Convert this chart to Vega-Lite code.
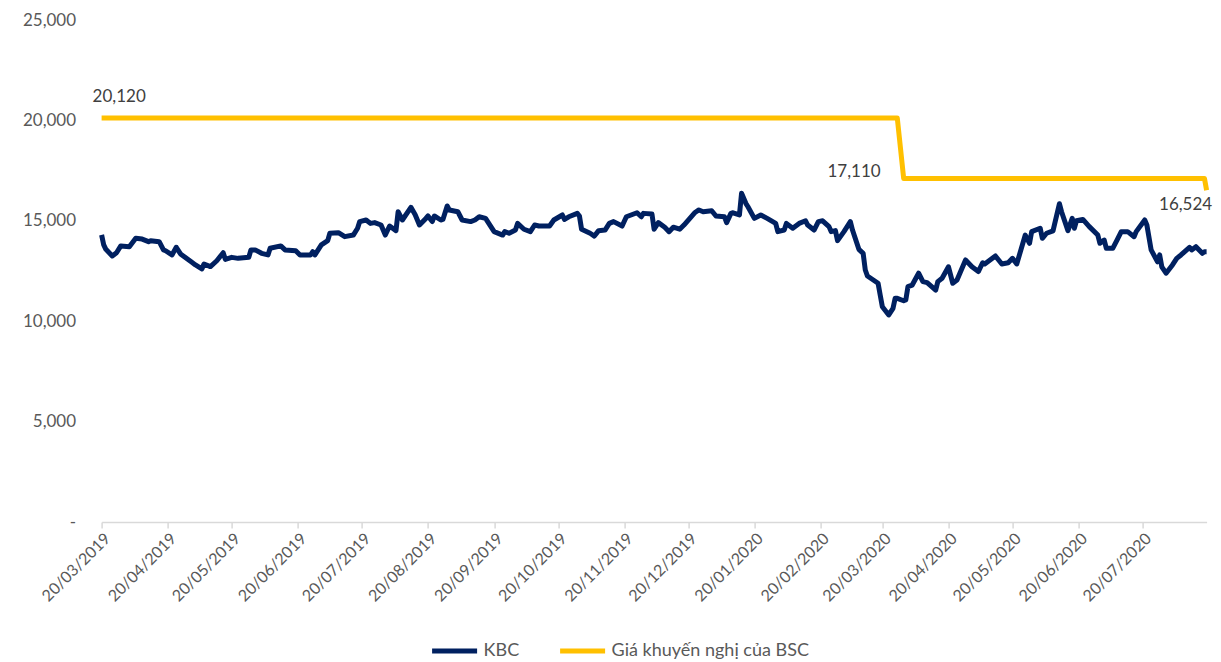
{
  "$schema": "https://vega.github.io/schema/vega-lite/v6.json",
  "autosize": {"type": "none"},
  "width": 1105,
  "height": 502,
  "padding": {"left": 101.6, "top": 20, "right": 14.4, "bottom": 140},
  "config": {
    "view": {"stroke": null},
    "font": "Lato"
  },
  "datasets": {
    "prices": [
      {"date": "2019-03-20", "series": "KBC", "value": 14300},
      {"date": "2019-03-21", "series": "KBC", "value": 13800},
      {"date": "2019-03-22", "series": "KBC", "value": 13580},
      {"date": "2019-03-25", "series": "KBC", "value": 13250},
      {"date": "2019-03-27", "series": "KBC", "value": 13410},
      {"date": "2019-03-29", "series": "KBC", "value": 13750},
      {"date": "2019-04-02", "series": "KBC", "value": 13710},
      {"date": "2019-04-05", "series": "KBC", "value": 14130},
      {"date": "2019-04-08", "series": "KBC", "value": 14090},
      {"date": "2019-04-11", "series": "KBC", "value": 13960},
      {"date": "2019-04-12", "series": "KBC", "value": 14010},
      {"date": "2019-04-16", "series": "KBC", "value": 13960},
      {"date": "2019-04-18", "series": "KBC", "value": 13550},
      {"date": "2019-04-19", "series": "KBC", "value": 13510},
      {"date": "2019-04-22", "series": "KBC", "value": 13300},
      {"date": "2019-04-24", "series": "KBC", "value": 13680},
      {"date": "2019-04-26", "series": "KBC", "value": 13350},
      {"date": "2019-05-01", "series": "KBC", "value": 12960},
      {"date": "2019-05-03", "series": "KBC", "value": 12800},
      {"date": "2019-05-06", "series": "KBC", "value": 12600},
      {"date": "2019-05-07", "series": "KBC", "value": 12850},
      {"date": "2019-05-10", "series": "KBC", "value": 12720},
      {"date": "2019-05-13", "series": "KBC", "value": 13010},
      {"date": "2019-05-16", "series": "KBC", "value": 13410},
      {"date": "2019-05-17", "series": "KBC", "value": 13080},
      {"date": "2019-05-20", "series": "KBC", "value": 13180},
      {"date": "2019-05-23", "series": "KBC", "value": 13130},
      {"date": "2019-05-28", "series": "KBC", "value": 13180},
      {"date": "2019-05-29", "series": "KBC", "value": 13550},
      {"date": "2019-05-31", "series": "KBC", "value": 13550},
      {"date": "2019-06-03", "series": "KBC", "value": 13380},
      {"date": "2019-06-06", "series": "KBC", "value": 13300},
      {"date": "2019-06-07", "series": "KBC", "value": 13630},
      {"date": "2019-06-12", "series": "KBC", "value": 13750},
      {"date": "2019-06-14", "series": "KBC", "value": 13550},
      {"date": "2019-06-19", "series": "KBC", "value": 13510},
      {"date": "2019-06-21", "series": "KBC", "value": 13300},
      {"date": "2019-06-26", "series": "KBC", "value": 13300},
      {"date": "2019-06-27", "series": "KBC", "value": 13460},
      {"date": "2019-06-28", "series": "KBC", "value": 13300},
      {"date": "2019-07-01", "series": "KBC", "value": 13800},
      {"date": "2019-07-04", "series": "KBC", "value": 14010},
      {"date": "2019-07-05", "series": "KBC", "value": 14380},
      {"date": "2019-07-09", "series": "KBC", "value": 14410},
      {"date": "2019-07-12", "series": "KBC", "value": 14210},
      {"date": "2019-07-16", "series": "KBC", "value": 14290},
      {"date": "2019-07-18", "series": "KBC", "value": 14630},
      {"date": "2019-07-19", "series": "KBC", "value": 14960},
      {"date": "2019-07-22", "series": "KBC", "value": 15040},
      {"date": "2019-07-24", "series": "KBC", "value": 14870},
      {"date": "2019-07-26", "series": "KBC", "value": 14910},
      {"date": "2019-07-29", "series": "KBC", "value": 14790},
      {"date": "2019-07-31", "series": "KBC", "value": 14290},
      {"date": "2019-08-02", "series": "KBC", "value": 14740},
      {"date": "2019-08-05", "series": "KBC", "value": 14510},
      {"date": "2019-08-06", "series": "KBC", "value": 15450},
      {"date": "2019-08-08", "series": "KBC", "value": 15040},
      {"date": "2019-08-12", "series": "KBC", "value": 15670},
      {"date": "2019-08-14", "series": "KBC", "value": 15300},
      {"date": "2019-08-16", "series": "KBC", "value": 14790},
      {"date": "2019-08-19", "series": "KBC", "value": 15120},
      {"date": "2019-08-20", "series": "KBC", "value": 15240},
      {"date": "2019-08-22", "series": "KBC", "value": 14960},
      {"date": "2019-08-23", "series": "KBC", "value": 15240},
      {"date": "2019-08-26", "series": "KBC", "value": 15040},
      {"date": "2019-08-27", "series": "KBC", "value": 15070},
      {"date": "2019-08-29", "series": "KBC", "value": 15740},
      {"date": "2019-08-30", "series": "KBC", "value": 15540},
      {"date": "2019-09-03", "series": "KBC", "value": 15450},
      {"date": "2019-09-05", "series": "KBC", "value": 15040},
      {"date": "2019-09-09", "series": "KBC", "value": 14960},
      {"date": "2019-09-11", "series": "KBC", "value": 15040},
      {"date": "2019-09-13", "series": "KBC", "value": 15200},
      {"date": "2019-09-16", "series": "KBC", "value": 15120},
      {"date": "2019-09-20", "series": "KBC", "value": 14460},
      {"date": "2019-09-24", "series": "KBC", "value": 14290},
      {"date": "2019-09-25", "series": "KBC", "value": 14460},
      {"date": "2019-09-27", "series": "KBC", "value": 14380},
      {"date": "2019-09-30", "series": "KBC", "value": 14540},
      {"date": "2019-10-01", "series": "KBC", "value": 14870},
      {"date": "2019-10-04", "series": "KBC", "value": 14580},
      {"date": "2019-10-07", "series": "KBC", "value": 14460},
      {"date": "2019-10-09", "series": "KBC", "value": 14790},
      {"date": "2019-10-11", "series": "KBC", "value": 14740},
      {"date": "2019-10-16", "series": "KBC", "value": 14740},
      {"date": "2019-10-18", "series": "KBC", "value": 15040},
      {"date": "2019-10-22", "series": "KBC", "value": 15290},
      {"date": "2019-10-23", "series": "KBC", "value": 15070},
      {"date": "2019-10-25", "series": "KBC", "value": 15200},
      {"date": "2019-10-29", "series": "KBC", "value": 15370},
      {"date": "2019-10-30", "series": "KBC", "value": 15240},
      {"date": "2019-10-31", "series": "KBC", "value": 14580},
      {"date": "2019-11-04", "series": "KBC", "value": 14380},
      {"date": "2019-11-06", "series": "KBC", "value": 14240},
      {"date": "2019-11-08", "series": "KBC", "value": 14510},
      {"date": "2019-11-11", "series": "KBC", "value": 14540},
      {"date": "2019-11-13", "series": "KBC", "value": 14870},
      {"date": "2019-11-15", "series": "KBC", "value": 14960},
      {"date": "2019-11-19", "series": "KBC", "value": 14740},
      {"date": "2019-11-21", "series": "KBC", "value": 15200},
      {"date": "2019-11-26", "series": "KBC", "value": 15400},
      {"date": "2019-11-28", "series": "KBC", "value": 15200},
      {"date": "2019-11-29", "series": "KBC", "value": 15370},
      {"date": "2019-12-03", "series": "KBC", "value": 15340},
      {"date": "2019-12-04", "series": "KBC", "value": 14580},
      {"date": "2019-12-06", "series": "KBC", "value": 14910},
      {"date": "2019-12-09", "series": "KBC", "value": 14680},
      {"date": "2019-12-11", "series": "KBC", "value": 14460},
      {"date": "2019-12-13", "series": "KBC", "value": 14680},
      {"date": "2019-12-16", "series": "KBC", "value": 14580},
      {"date": "2019-12-18", "series": "KBC", "value": 14790},
      {"date": "2019-12-23", "series": "KBC", "value": 15400},
      {"date": "2019-12-25", "series": "KBC", "value": 15540},
      {"date": "2019-12-27", "series": "KBC", "value": 15450},
      {"date": "2019-12-31", "series": "KBC", "value": 15500},
      {"date": "2020-01-02", "series": "KBC", "value": 15240},
      {"date": "2020-01-06", "series": "KBC", "value": 15200},
      {"date": "2020-01-07", "series": "KBC", "value": 14910},
      {"date": "2020-01-09", "series": "KBC", "value": 15370},
      {"date": "2020-01-10", "series": "KBC", "value": 15400},
      {"date": "2020-01-13", "series": "KBC", "value": 15290},
      {"date": "2020-01-14", "series": "KBC", "value": 16370},
      {"date": "2020-01-16", "series": "KBC", "value": 15870},
      {"date": "2020-01-17", "series": "KBC", "value": 15700},
      {"date": "2020-01-20", "series": "KBC", "value": 15120},
      {"date": "2020-01-23", "series": "KBC", "value": 15290},
      {"date": "2020-01-26", "series": "KBC", "value": 15120},
      {"date": "2020-01-30", "series": "KBC", "value": 14870},
      {"date": "2020-01-31", "series": "KBC", "value": 14460},
      {"date": "2020-02-03", "series": "KBC", "value": 14540},
      {"date": "2020-02-04", "series": "KBC", "value": 14870},
      {"date": "2020-02-07", "series": "KBC", "value": 14630},
      {"date": "2020-02-10", "series": "KBC", "value": 14870},
      {"date": "2020-02-13", "series": "KBC", "value": 15000},
      {"date": "2020-02-14", "series": "KBC", "value": 14790},
      {"date": "2020-02-17", "series": "KBC", "value": 14540},
      {"date": "2020-02-19", "series": "KBC", "value": 14960},
      {"date": "2020-02-21", "series": "KBC", "value": 15000},
      {"date": "2020-02-24", "series": "KBC", "value": 14710},
      {"date": "2020-02-25", "series": "KBC", "value": 14460},
      {"date": "2020-02-27", "series": "KBC", "value": 14510},
      {"date": "2020-02-28", "series": "KBC", "value": 14010},
      {"date": "2020-03-02", "series": "KBC", "value": 14460},
      {"date": "2020-03-05", "series": "KBC", "value": 14960},
      {"date": "2020-03-06", "series": "KBC", "value": 14540},
      {"date": "2020-03-09", "series": "KBC", "value": 13580},
      {"date": "2020-03-11", "series": "KBC", "value": 13380},
      {"date": "2020-03-12", "series": "KBC", "value": 12550},
      {"date": "2020-03-13", "series": "KBC", "value": 12250},
      {"date": "2020-03-18", "series": "KBC", "value": 11890},
      {"date": "2020-03-19", "series": "KBC", "value": 11300},
      {"date": "2020-03-20", "series": "KBC", "value": 10720},
      {"date": "2020-03-23", "series": "KBC", "value": 10310},
      {"date": "2020-03-25", "series": "KBC", "value": 10640},
      {"date": "2020-03-26", "series": "KBC", "value": 11140},
      {"date": "2020-03-27", "series": "KBC", "value": 11140},
      {"date": "2020-03-30", "series": "KBC", "value": 11020},
      {"date": "2020-03-31", "series": "KBC", "value": 11060},
      {"date": "2020-04-01", "series": "KBC", "value": 11720},
      {"date": "2020-04-03", "series": "KBC", "value": 11800},
      {"date": "2020-04-06", "series": "KBC", "value": 12390},
      {"date": "2020-04-08", "series": "KBC", "value": 11970},
      {"date": "2020-04-10", "series": "KBC", "value": 11920},
      {"date": "2020-04-14", "series": "KBC", "value": 11550},
      {"date": "2020-04-15", "series": "KBC", "value": 11970},
      {"date": "2020-04-17", "series": "KBC", "value": 12140},
      {"date": "2020-04-20", "series": "KBC", "value": 12710},
      {"date": "2020-04-22", "series": "KBC", "value": 11890},
      {"date": "2020-04-24", "series": "KBC", "value": 12050},
      {"date": "2020-04-28", "series": "KBC", "value": 13050},
      {"date": "2020-05-01", "series": "KBC", "value": 12710},
      {"date": "2020-05-04", "series": "KBC", "value": 12470},
      {"date": "2020-05-06", "series": "KBC", "value": 12910},
      {"date": "2020-05-07", "series": "KBC", "value": 12850},
      {"date": "2020-05-12", "series": "KBC", "value": 13250},
      {"date": "2020-05-15", "series": "KBC", "value": 12850},
      {"date": "2020-05-18", "series": "KBC", "value": 12910},
      {"date": "2020-05-20", "series": "KBC", "value": 13130},
      {"date": "2020-05-22", "series": "KBC", "value": 12850},
      {"date": "2020-05-26", "series": "KBC", "value": 14290},
      {"date": "2020-05-28", "series": "KBC", "value": 13880},
      {"date": "2020-05-29", "series": "KBC", "value": 14460},
      {"date": "2020-06-02", "series": "KBC", "value": 14630},
      {"date": "2020-06-03", "series": "KBC", "value": 14130},
      {"date": "2020-06-05", "series": "KBC", "value": 14380},
      {"date": "2020-06-08", "series": "KBC", "value": 14500},
      {"date": "2020-06-11", "series": "KBC", "value": 15850},
      {"date": "2020-06-12", "series": "KBC", "value": 15450},
      {"date": "2020-06-15", "series": "KBC", "value": 14510},
      {"date": "2020-06-17", "series": "KBC", "value": 15120},
      {"date": "2020-06-18", "series": "KBC", "value": 14630},
      {"date": "2020-06-19", "series": "KBC", "value": 15000},
      {"date": "2020-06-22", "series": "KBC", "value": 15070},
      {"date": "2020-06-25", "series": "KBC", "value": 14710},
      {"date": "2020-06-29", "series": "KBC", "value": 14290},
      {"date": "2020-06-30", "series": "KBC", "value": 13880},
      {"date": "2020-07-02", "series": "KBC", "value": 14040},
      {"date": "2020-07-03", "series": "KBC", "value": 13630},
      {"date": "2020-07-06", "series": "KBC", "value": 13630},
      {"date": "2020-07-08", "series": "KBC", "value": 14040},
      {"date": "2020-07-10", "series": "KBC", "value": 14460},
      {"date": "2020-07-13", "series": "KBC", "value": 14460},
      {"date": "2020-07-16", "series": "KBC", "value": 14210},
      {"date": "2020-07-17", "series": "KBC", "value": 14460},
      {"date": "2020-07-21", "series": "KBC", "value": 15040},
      {"date": "2020-07-22", "series": "KBC", "value": 14790},
      {"date": "2020-07-24", "series": "KBC", "value": 13550},
      {"date": "2020-07-27", "series": "KBC", "value": 12960},
      {"date": "2020-07-28", "series": "KBC", "value": 13300},
      {"date": "2020-07-29", "series": "KBC", "value": 12710},
      {"date": "2020-07-31", "series": "KBC", "value": 12390},
      {"date": "2020-08-03", "series": "KBC", "value": 12800},
      {"date": "2020-08-05", "series": "KBC", "value": 13130},
      {"date": "2020-08-07", "series": "KBC", "value": 13300},
      {"date": "2020-08-11", "series": "KBC", "value": 13680},
      {"date": "2020-08-12", "series": "KBC", "value": 13550},
      {"date": "2020-08-14", "series": "KBC", "value": 13710},
      {"date": "2020-08-17", "series": "KBC", "value": 13380},
      {"date": "2020-08-18", "series": "KBC", "value": 13460},
      {"date": "2020-08-19", "series": "KBC", "value": 13460},
      {"date": "2019-03-20", "series": "Giá khuyến nghị của BSC", "value": 20120},
      {"date": "2020-03-27", "series": "Giá khuyến nghị của BSC", "value": 20120},
      {"date": "2020-03-30", "series": "Giá khuyến nghị của BSC", "value": 17110},
      {"date": "2020-08-18", "series": "Giá khuyến nghị của BSC", "value": 17110},
      {"date": "2020-08-19", "series": "Giá khuyến nghị của BSC", "value": 16524}
    ]
  },
  "data": {"name": "prices"},
  "encoding": {
    "x": {
      "field": "date",
      "type": "temporal",
      "title": null,
      "scale": {
        "domain": [
          {"year": 2019, "month": 3, "date": 20},
          {"year": 2020, "month": 8, "date": 19}
        ]
      },
      "axis": {
        "values": [
          {"year": 2019, "month": 3, "date": 20},
          {"year": 2019, "month": 4, "date": 20},
          {"year": 2019, "month": 5, "date": 20},
          {"year": 2019, "month": 6, "date": 20},
          {"year": 2019, "month": 7, "date": 20},
          {"year": 2019, "month": 8, "date": 20},
          {"year": 2019, "month": 9, "date": 20},
          {"year": 2019, "month": 10, "date": 20},
          {"year": 2019, "month": 11, "date": 20},
          {"year": 2019, "month": 12, "date": 20},
          {"year": 2020, "month": 1, "date": 20},
          {"year": 2020, "month": 2, "date": 20},
          {"year": 2020, "month": 3, "date": 20},
          {"year": 2020, "month": 4, "date": 20},
          {"year": 2020, "month": 5, "date": 20},
          {"year": 2020, "month": 6, "date": 20},
          {"year": 2020, "month": 7, "date": 20}
        ],
        "format": "%d/%m/%Y",
        "labelAngle": -45,
        "labelFontSize": 16,
        "labelColor": "#595959",
        "domainColor": "#d9d9d9",
        "domainWidth": 1.5,
        "tickColor": "#d9d9d9",
        "tickWidth": 1.5,
        "tickSize": 6,
        "labelPadding": 2,
        "grid": false,
        "labelOverlap": false,
        "labelFlush": false
      }
    },
    "y": {
      "field": "value",
      "type": "quantitative",
      "title": null,
      "scale": {"domain": [0, 25000], "nice": false},
      "axis": {
        "values": [0, 5000, 10000, 15000, 20000, 25000],
        "labelExpr": "datum.value == 0 ? '-' : format(datum.value, ',')",
        "labelFontSize": 17,
        "labelColor": "#595959",
        "labelPadding": 26,
        "domain": false,
        "ticks": false,
        "grid": false
      }
    }
  },
  "layer": [
    {
      "mark": {"type": "line", "strokeWidth": 5, "strokeJoin": "round", "strokeCap": "butt"},
      "encoding": {
        "color": {
          "field": "series",
          "type": "nominal",
          "scale": {
            "domain": ["KBC", "Giá khuyến nghị của BSC"],
            "range": ["#002060", "#FFC000"]
          },
          "legend": {
            "title": null,
            "orient": "none",
            "direction": "horizontal",
            "legendX": 328,
            "legendY": 606,
            "symbolType": "stroke",
            "symbolSize": 2025,
            "symbolStrokeWidth": 5,
            "labelFontSize": 18,
            "labelColor": "#595959",
            "labelOffset": 4,
            "labelLimit": 400,
            "columnPadding": 30
          }
        }
      }
    },
    {
      "transform": [{"filter": "datum.value == 20120 && year(datum.date) == 2019"}],
      "mark": {"type": "text", "align": "left", "dx": -9, "dy": -21, "fontSize": 17, "color": "#404040"},
      "encoding": {"text": {"field": "value", "type": "quantitative", "format": ","}}
    },
    {
      "transform": [{"filter": "datum.value == 17110 && month(datum.date) == 2"}],
      "mark": {"type": "text", "align": "right", "dx": -23, "dy": -6, "fontSize": 17, "color": "#404040"},
      "encoding": {"text": {"field": "value", "type": "quantitative", "format": ","}}
    },
    {
      "transform": [{"filter": "datum.value == 16524"}],
      "mark": {"type": "text", "align": "center", "dx": -21, "dy": 15, "fontSize": 17, "color": "#404040"},
      "encoding": {"text": {"field": "value", "type": "quantitative", "format": ","}}
    }
  ]
}
